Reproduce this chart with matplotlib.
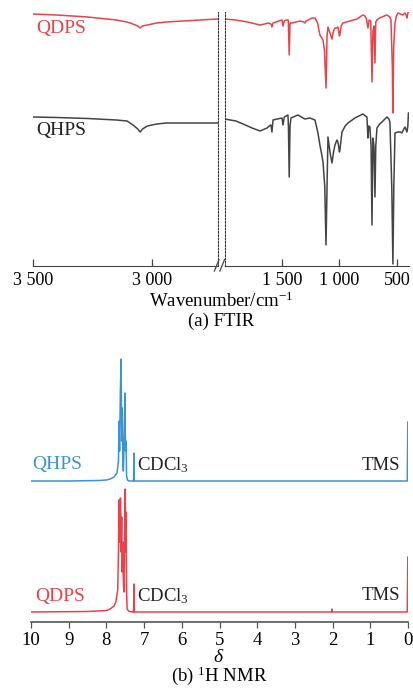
import numpy as np
import matplotlib
matplotlib.use("Agg")
from matplotlib import pyplot as plt

plt.rcParams['font.family'] = ['Liberation Serif', 'DejaVu Serif']
plt.rcParams['mathtext.fontset'] = 'custom'
plt.rcParams['mathtext.rm'] = 'Liberation Serif'
plt.rcParams['mathtext.it'] = 'Liberation Serif:italic'

# ---- FTIR data (transmittance, arbitrary offset units) ----
# high wavenumber part, 3500-2723 cm-1
ir_hi_wn = [3500, 3400, 3270, 3150, 3105, 3080, 3060, 3050, 3040, 3020, 2980, 2940, 2870, 2800, 2723]
qdps_ir_hi = [252, 251, 249, 246, 244, 242, 240, 238, 240, 241, 243, 244, 245, 246, 247]
qhps_ir_hi = [149, 148.5, 147.5, 146, 145, 141, 137, 134, 137, 140, 142, 143, 143, 143, 143]

# low wavenumber part, 2000-395 cm-1
qdps_ir_lo_wn = [2000, 1900, 1800, 1691, 1650, 1622, 1595, 1587, 1578, 1552, 1500, 1491, 1480,
                 1465, 1445, 1437, 1430, 1413, 1343, 1310, 1300, 1290, 1239, 1213, 1190, 1170,
                 1143, 1130, 1117, 1108, 1100, 1080, 1065, 1050, 1039, 1025, 1013, 1000, 996,
                 985, 970, 909, 848, 796, 778, 765, 752, 742, 728, 717, 709, 700, 691, 684,
                 674, 650, 610, 587, 561, 552, 540, 535, 528, 517, 505, 491, 470, 448, 430,
                 420, 413, 405, 400, 395]
qdps_ir_lo = [247, 246, 244, 241, 242, 243, 242, 239, 243, 244, 246, 240, 245,
              246, 246, 211, 243, 243, 245, 244, 243, 245, 248, 248, 243, 231,
              226, 215, 178, 230, 239, 232, 227, 236, 238, 238, 239, 230, 232,
              240, 243, 245, 247, 251, 250, 247, 238, 246, 245, 184, 235, 240, 203, 244,
              246, 248, 250, 251, 249, 246, 200, 153, 220, 243, 250, 253, 252, 251, 253,
              251, 248, 253, 254, 254]

qhps_ir_lo_wn = [2000, 1900, 1839, 1760, 1691, 1650, 1630, 1610, 1596, 1587, 1578, 1540, 1500,
                 1491, 1480, 1465, 1448, 1444, 1437, 1430, 1422, 1361, 1317, 1300, 1257, 1213,
                 1187, 1170, 1155, 1143, 1128, 1117, 1108, 1100, 1080, 1065, 1050, 1039, 1022,
                 1013, 1000, 996, 978, 950, 926, 865, 796, 761, 752, 745, 735, 725, 717, 709,
                 700, 691, 684, 674, 650, 630, 587, 570, 561, 545, 535, 527, 517, 491, 470,
                 457, 440, 430, 413, 405, 400, 395]
qhps_ir_lo = [147, 145, 142, 138, 135, 137, 138, 140, 141, 134, 146, 147, 148,
              141, 149, 150, 151, 140, 89, 140, 148, 151, 148, 147, 148, 146,
              133, 121, 112, 104, 80, 21, 80, 129, 112, 103, 115, 121, 126,
              124, 114, 116, 134, 140, 143, 148, 152, 149, 128, 140, 139, 120, 41, 128,
              120, 69, 120, 138, 142, 144, 149, 147, 144, 80, 2, 80, 133, 134, 134,
              133, 137, 139, 134, 140, 153, 153]

# ---- 1H NMR data (chemical shift, intensity above baseline) ----
qhps_ppm = [10.0, 9.0, 8.2, 8.0, 7.9, 7.8, 7.72, 7.68, 7.665, 7.65, 7.63, 7.61, 7.595, 7.58,
            7.565, 7.55, 7.53, 7.51, 7.495, 7.48, 7.465, 7.44, 7.40, 7.28, 7.27, 7.26,
            5.0, 0.02, 0.005, 0.0]
qhps_nmr = [0, 0, 0.5, 1, 2, 4, 8, 20, 60, 30, 90, 122, 40, 73,
            20, 10, 40, 88, 30, 40, 5, 1, 0, 0, 28, 0,
            0, 0, 59, 59]

qdps_ppm = [10.0, 8.5, 8.0, 7.9, 7.8, 7.75, 7.7, 7.68, 7.665, 7.655, 7.64, 7.625, 7.61, 7.595,
            7.58, 7.565, 7.55, 7.535, 7.515, 7.50, 7.49, 7.48, 7.465, 7.45, 7.40, 7.28,
            7.27, 7.26, 2.03, 2.02, 2.01, 0.02, 0.005, 0.0]
qdps_nmr = [0, 0.5, 1.5, 3, 6, 10, 22, 60, 112, 70, 110, 114, 60, 95,
            40, 70, 30, 20, 80, 123, 60, 100, 20, 3, 0.5, 0,
            28, 0, 0, 3, 0, 0, 55, 55]

ir_red = '#e8434a'
ir_black = '#444444'
nmr_red = '#e8434a'
nmr_blue = '#3d93d2'

W, H = 413, 688
fig = plt.figure(figsize=(W / 100, H / 100), dpi=100)

# ---------------- (a) FTIR ----------------
ax1 = fig.add_axes([33 / W, 1 - 266 / H, (218 - 33) / W, (266 - 12) / H])
ax2 = fig.add_axes([224.5 / W, 1 - 266 / H, (409 - 224.5) / W, (266 - 12) / H])

ax1.plot(ir_hi_wn, qdps_ir_hi, color=ir_red, lw=1.1)
ax1.plot(ir_hi_wn, qhps_ir_hi, color=ir_black, lw=1.1)
ax2.plot(qdps_ir_lo_wn, qdps_ir_lo, color=ir_red, lw=1.1)
ax2.plot(qhps_ir_lo_wn, qhps_ir_lo, color=ir_black, lw=1.1)

ax1.set_xlim(3500, 2723)
ax2.set_xlim(2000, 395)
for ax in (ax1, ax2):
    ax.set_ylim(0, 254)
    ax.set_yticks([])
    ax.spines['top'].set_visible(False)
    ax.spines['bottom'].set_color('#444444')
    ax.tick_params(axis='x', direction='in', length=5, width=0.9, color='#444444',
                   labelsize=13, pad=4)
ax1.spines['left'].set_visible(False)
ax2.spines['right'].set_visible(False)
for sp in (ax1.spines['right'], ax2.spines['left']):
    sp.set_linestyle((0, (1.5, 1.5)))
    sp.set_linewidth(0.8)
    sp.set_color('#333333')

ax1.set_xticks([3500, 3000])
ax1.set_xticklabels(['3 500', '3 000'])
ax2.set_xticks([1500, 1000, 500])
ax2.set_xticklabels(['1 500', '1 000', '500'])

# break marks on the x axis
for dx in (-0.03, 0.0):
    ax2.plot([dx - 0.025, dx + 0.0], [-0.02, 0.025], transform=ax2.transAxes,
             color='#444444', lw=0.9, clip_on=False)

ax1.text(3485, 237, 'QDPS', color=ir_red, fontsize=14, va='center', ha='left')
ax1.text(3485, 135, 'QHPS', color='#222222', fontsize=14, va='center', ha='left')

fig.text(221 / W, 1 - 301 / H, 'Wavenumber/cm$^{-1}$', ha='center', va='center', fontsize=13.5)
fig.text(221 / W, 1 - 321 / H, '(a) FTIR', ha='center', va='center', fontsize=13.5)

# ---------------- (b) 1H NMR ----------------
ax3 = fig.add_axes([31 / W, 1 - 622 / H, (408 - 31) / W, (622 - 345) / H])
blue_off = 141
red_off = 10
ax3.plot(qhps_ppm, np.array(qhps_nmr) + blue_off, color=nmr_blue, lw=1.1)
ax3.plot(qdps_ppm, np.array(qdps_nmr) + red_off, color=nmr_red, lw=1.1)
ax3.set_xlim(10, 0)
ax3.set_ylim(0, 277)
ax3.set_yticks([])
for s in ('top', 'left', 'right'):
    ax3.spines[s].set_visible(False)
ax3.spines['bottom'].set_color('#555555')
ax3.spines['bottom'].set_linewidth(1.2)
ax3.set_xticks(range(0, 11))
ax3.set_xticklabels([str(v) for v in range(0, 11)])
ax3.tick_params(axis='x', direction='out', length=4, width=0.9, color='#555555',
                labelsize=13.5, pad=3)

ax3.text(9.97, blue_off + 16, 'QHPS', color=nmr_blue, fontsize=14, va='center', ha='left')
ax3.text(7.18, blue_off + 16, 'CDCl$_3$', color='#222222', fontsize=13.5, va='center', ha='left')
ax3.text(0.2, blue_off + 16, 'TMS', color='#222222', fontsize=13.5, va='center', ha='right')
ax3.text(9.9, red_off + 16, 'QDPS', color=nmr_red, fontsize=14, va='center', ha='left')
ax3.text(7.18, red_off + 16, 'CDCl$_3$', color='#222222', fontsize=13.5, va='center', ha='left')
ax3.text(0.2, red_off + 16, 'TMS', color='#222222', fontsize=13.5, va='center', ha='right')

fig.text(219 / W, 1 - 657 / H, r'$\delta$', ha='center', va='center', fontsize=14)
fig.text(219 / W, 1 - 676 / H, '(b) $^{1}$H NMR', ha='center', va='center', fontsize=13.5)

plt.savefig('out.png', dpi=100)
